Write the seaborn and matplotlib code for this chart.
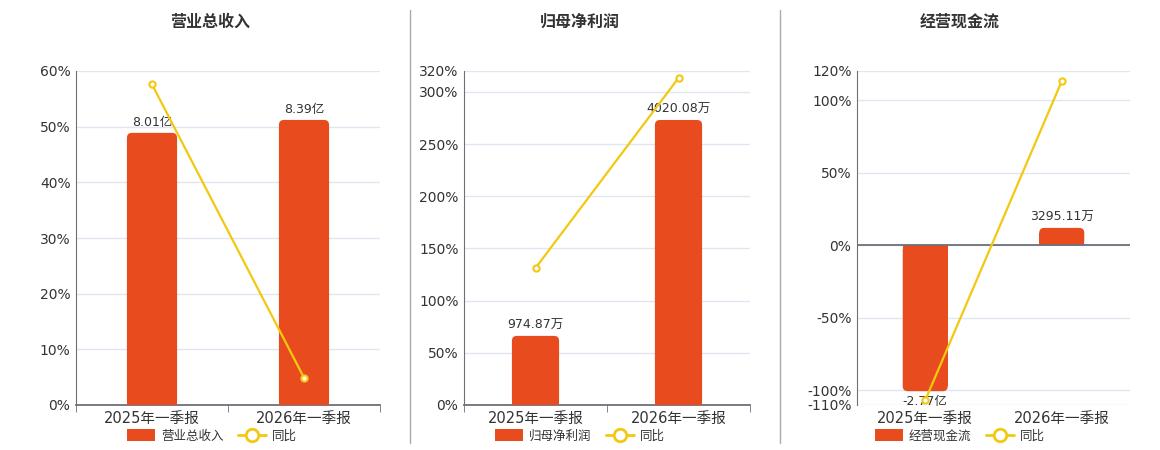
import matplotlib
matplotlib.use("Agg")
import matplotlib.pyplot as plt
import seaborn as sns
import pandas as pd
from matplotlib.patches import FancyBboxPatch, Patch
from matplotlib.lines import Line2D

# -----------------------------
# Data
# -----------------------------
periods = ["2025年一季报", "2026年一季报"]
titles = ["营业总收入", "归母净利润", "经营现金流"]

revenue = [8.01, 8.39]              # 亿
revenue_labels = ["8.01亿", "8.39亿"]
revenue_yoy = [57.6, 4.9]           # %

profit = [974.87, 4020.08]          # 万
profit_labels = ["974.87万", "4020.08万"]
profit_yoy = [131.2, 313.3]

cashflow = [-27700.0, 3295.11]      # 万
cashflow_labels = ["-2.77亿", "3295.11万"]
cashflow_yoy = [-106.7, 113.0]

pct_ticks_1 = [0, 10, 20, 30, 40, 50, 60]
pct_ticks_2 = [0, 50, 100, 150, 200, 250, 300, 320]
pct_ticks_3 = [-110, -100, -50, 0, 50, 100, 120]

RED = "#E84C1E"
YELLOW = "#F2C811"
GRID = "#E0E6F1"
AXIS = "#6E7079"
TXT = "#333333"

sns.set_style("white")
plt.rcParams["font.family"] = ["DejaVu Sans", "Noto Sans CJK SC"]

W, H = 1160, 450
fig = plt.figure(figsize=(W / 100, H / 100), dpi=100)


def draw_panel(rect, title, title_x, legend_x, bars, bar_labels, bar_lim,
               yoy, pct_ticks, zero_line=False):
    ax = fig.add_axes(rect)
    ax_bar = ax.twinx()
    ax_line = ax.twinx()

    df = pd.DataFrame({"period": periods, "value": bars, "yoy": yoy})

    # bars
    sns.barplot(data=df, x="period", y="value", ax=ax_bar, color=RED,
                width=0.33, saturation=1)
    ax_bar.set_ylim(*bar_lim)
    ax_bar.bar_label(ax_bar.containers[0], labels=bar_labels, padding=3,
                     fontsize=9, color=TXT)

    # rounded bar ends (square at the base)
    ax_w_px = rect[2] * W
    ax_h_px = rect[3] * H
    rx = 2.0 / ax_w_px * 5
    ry = (bar_lim[1] - bar_lim[0]) / ax_h_px * 5
    for p in list(ax_bar.patches):
        x, y, w, h = p.get_x(), p.get_y(), p.get_width(), p.get_height()
        y0 = min(y, y + h)
        fb = FancyBboxPatch((x, y0), w, abs(h),
                            boxstyle=f"round,pad=0,rounding_size={rx}",
                            mutation_aspect=ry / rx,
                            facecolor=RED, edgecolor="none", linewidth=0)
        ax_bar.add_patch(fb)
        p.set_linewidth(0)
        if h > 0:
            p.set_height(h - ry)
        else:
            p.set_height(h + ry)

    # yoy line
    sns.pointplot(data=df, x="period", y="yoy", ax=ax_line, color=YELLOW,
                  markers="o", markersize=4.5, markerfacecolor="white",
                  markeredgewidth=1.5, linewidth=1.6)

    lo, hi = pct_ticks[0], pct_ticks[-1]
    ax.set_ylim(lo, hi)
    ax_line.set_ylim(lo, hi)

    for a in (ax_bar, ax_line):
        a.set_yticks([])
        a.set_ylabel("")
        a.set_xlabel("")
        a.tick_params(axis="x", which="both", bottom=False, labelbottom=False)
        for s in a.spines.values():
            s.set_visible(False)

    # primary axis: ticks, grid, spines (set last, x axis is shared)
    ax.set_xlim(-0.5, 1.5)
    ax.set_yticks(pct_ticks)
    ax.set_yticklabels([f"{t}%" for t in pct_ticks])
    ax.yaxis.grid(True, color=GRID, linewidth=1)
    ax.set_axisbelow(True)
    ax.tick_params(axis="y", length=0, labelsize=10, labelcolor=TXT, pad=4)
    ax.set_xticks([0, 1])
    ax.set_xticklabels(periods)
    ax.set_xticks([-0.5, 0.5, 1.5], minor=True)
    ax.tick_params(axis="x", which="major", bottom=True, labelbottom=True,
                   length=0, labelsize=10.5, labelcolor=TXT, pad=4)
    ax.tick_params(axis="x", which="minor", bottom=True, length=5,
                   color=AXIS, direction="out")
    for s in ("top", "right"):
        ax.spines[s].set_visible(False)
    ax.spines["left"].set_color(AXIS)
    ax.spines["bottom"].set_color(AXIS)
    ax.spines["bottom"].set_linewidth(1.3)
    if zero_line:
        ax.spines["bottom"].set_visible(False)
        ax.tick_params(axis="x", which="minor", length=0)
        ax_line.axhline(0, color=AXIS, linewidth=1.3, zorder=0)
    ax.set_ylabel("")
    ax.set_xlabel("")

    fig.text(title_x / W, 1 - 22 / H, title, ha="center", va="center",
             fontsize=11.5, fontweight="bold", color=TXT)

    handles = [Patch(facecolor=RED, edgecolor="none", label=title),
               Line2D([], [], color=YELLOW, marker="o", markerfacecolor="white",
                      markeredgewidth=2, markersize=9, linewidth=2, label="同比")]
    fig.legend(handles=handles, loc="center", ncol=2, frameon=False,
               bbox_to_anchor=(legend_x / W, 1 - 436 / H), fontsize=9,
               handlelength=2.2, handleheight=1.1, handletextpad=0.5,
               columnspacing=1.2, labelcolor=TXT)


def rect_px(left, right, top=71, bottom=405):
    return [left / W, 1 - bottom / H, (right - left) / W, (bottom - top) / H]


draw_panel(rect_px(76, 380), titles[0], 210, 212, revenue, revenue_labels,
           (0, 9.83), revenue_yoy, pct_ticks_1)
draw_panel(rect_px(464, 750), titles[1], 580, 580, profit, profit_labels,
           (0, 4711), profit_yoy, pct_ticks_2)
draw_panel(rect_px(857, 1130), titles[2], 960, 960, cashflow, cashflow_labels,
           (-30320, 33070), cashflow_yoy, pct_ticks_3, zero_line=True)

# panel separators
for xp in (410, 780):
    fig.add_artist(Line2D([xp / W, xp / W], [1 - 443 / H, 1 - 10 / H],
                          color="#AAAAAA", linewidth=1))

fig.savefig("out.png", dpi=100, facecolor="white")
